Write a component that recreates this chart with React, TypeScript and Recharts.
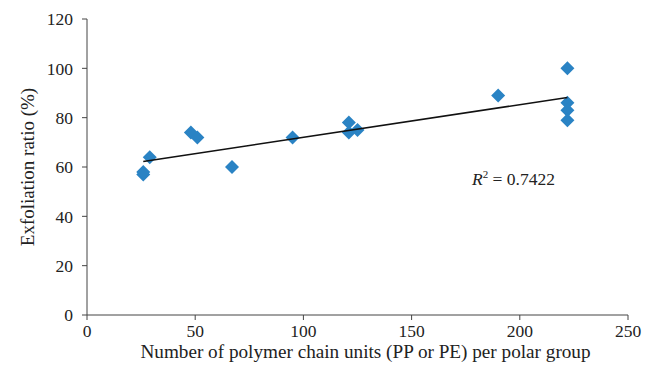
import { ScatterChart, Scatter, XAxis, YAxis } from 'recharts'

// measured points (units per polar group vs exfoliation %)
const unitsX = [26, 26, 29, 48, 51, 67, 95, 121, 121, 125, 190, 222, 222, 222, 222]
const exfoliationY = [57, 58, 64, 74, 72, 60, 72, 78, 74, 75, 89, 100, 86, 83, 79]

// linear trendline endpoints
const trendX = [26, 222]
const trendY = [62.2, 88.2]

const xTicks = [0, 50, 100, 150, 200, 250]
const yTicks = [0, 20, 40, 60, 80, 100, 120]

const points = unitsX.map((x, i) => ({ x, y: exfoliationY[i] }))
const trend = trendX.map((x, i) => ({ x, y: trendY[i] }))

const FONT = '"Liberation Serif", "DejaVu Serif", serif'
const AXIS = '#444'
const TEXT = '#222'
const BLUE = '#2a83c4'

const Diamond = (props: any) => {
  const { cx, cy } = props
  const r = 7
  return (
    <polygon
      points={`${cx},${cy - r} ${cx + r},${cy} ${cx},${cy + r} ${cx - r},${cy}`}
      fill={BLUE}
    />
  )
}

const NoDot = () => null

export default function App() {
  return (
    <div style={{ position: 'absolute', left: 0, top: 0, width: 656, height: 378, background: '#fff', fontFamily: FONT }}>
      <ScatterChart width={656} height={378} margin={{ top: 19, right: 28, bottom: 33, left: 27 }}>
        <XAxis
          type="number"
          dataKey="x"
          domain={[0, 250]}
          ticks={xTicks}
          tickSize={5}
          tickMargin={5}
          stroke={AXIS}
          tick={{ fill: TEXT, fontSize: 17.5, fontFamily: FONT }}
          label={{ value: 'Number of polymer chain units (PP or PE) per polar group', position: 'insideBottom', offset: 0, dx: 8, dy: 13, fill: TEXT, fontSize: 19.2, fontFamily: FONT }}
          height={30}
        />
        <YAxis
          type="number"
          dataKey="y"
          domain={[0, 120]}
          ticks={yTicks}
          tickSize={5}
          tickMargin={9}
          width={60}
          stroke={AXIS}
          tick={{ fill: TEXT, fontSize: 17.5, fontFamily: FONT }}
          label={{ value: 'Exfoliation ratio (%)', angle: -90, position: 'insideLeft', dx: -5, dy: 0, style: { textAnchor: 'middle' }, fill: TEXT, fontSize: 19, fontFamily: FONT }}
        />
        <Scatter data={points} shape={<Diamond />} isAnimationActive={false} />
        <Scatter data={trend} line={{ stroke: '#111', strokeWidth: 1.5 }} shape={<NoDot />} isAnimationActive={false} />
      </ScatterChart>
      <div style={{ position: 'absolute', left: 472, top: 168, fontSize: 17.5, color: TEXT, whiteSpace: 'nowrap' }}>
        <i>R</i>
        <sup style={{ fontSize: 11 }}>2</sup> = 0.7422
      </div>
    </div>
  )
}
